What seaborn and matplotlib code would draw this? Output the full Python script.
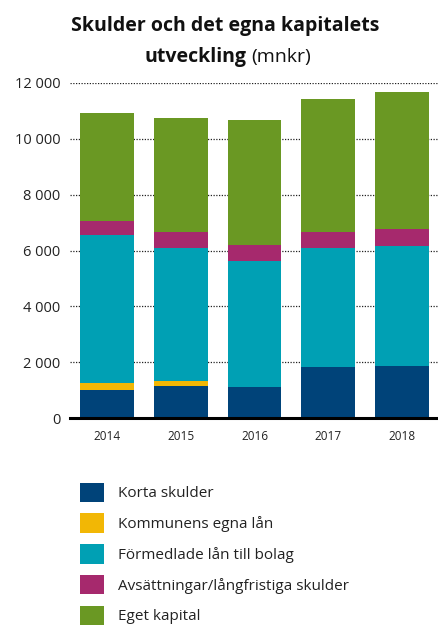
import pandas as pd
import matplotlib.pyplot as plt
import matplotlib.ticker as mticker
from matplotlib.patches import Patch
import seaborn as sns

# Data (mnkr)
years = ["2014", "2015", "2016", "2017", "2018"]
korta_skulder = [1000, 1140, 1100, 1820, 1850]
kommunens_lan = [240, 180, 0, 0, 0]
formedlade_lan = [5320, 4770, 4520, 4270, 4310]
avsattningar = [500, 570, 570, 570, 610]
eget_kapital = [3870, 4090, 4490, 4770, 4910]

series = ["Korta skulder", "Kommunens egna lån", "Förmedlade lån till bolag",
          "Avsättningar/långfristiga skulder", "Eget kapital"]
colors = ["#004379", "#F2B705", "#00A0B4", "#A6296D", "#6A9823"]

df = pd.DataFrame({
    "År": years,
    series[0]: korta_skulder,
    series[1]: kommunens_lan,
    series[2]: formedlade_lan,
    series[3]: avsattningar,
    series[4]: eget_kapital,
})
cum = df.set_index("År")[series].cumsum(axis=1).reset_index()

sns.set_theme(style="white")
plt.rcParams["font.family"] = ["Open Sans", "DejaVu Sans"]

fig = plt.figure(figsize=(4.39, 6.27), dpi=100)
ax = fig.add_axes([70 / 439, 1 - 418 / 627, 1 - 70 / 439, 335 / 627])

# stacked bars: draw cumulative totals from top layer down
for name, col in reversed(list(zip(series, colors))):
    sns.barplot(data=cum, x="År", y=name, color=col, width=0.73,
                saturation=1, ax=ax, zorder=3, linewidth=0)

ax.set_xlim(-0.5, 4.5)
ax.set_ylim(0, 12000)
ax.set_yticks(range(0, 12001, 2000))
ax.yaxis.set_major_formatter(mticker.FuncFormatter(
    lambda v, p: f"{int(v):,}".replace(",", " ")))
ax.grid(axis="y", linestyle=(0, (1, 1.2)), color="#222222", linewidth=0.9, zorder=0)
ax.set_axisbelow(True)
for s in ["top", "right", "left"]:
    ax.spines[s].set_visible(False)
ax.spines["bottom"].set_color("black")
ax.spines["bottom"].set_linewidth(2.2)
ax.spines["bottom"].set_zorder(5)
ax.tick_params(axis="y", length=0, pad=7, labelsize=10.5, labelcolor="#222222")
ax.tick_params(axis="x", length=0, pad=9, labelsize=8.5, labelcolor="#222222")
ax.set_xlabel("")
ax.set_ylabel("")

# title
fig.text(0.514, 1 - 31 / 627, "Skulder och det egna kapitalets", ha="center",
         va="baseline", fontsize=14, fontweight="bold", color="#111111")
fig.text(247 / 439, 1 - 62 / 627, "utveckling", ha="right", va="baseline",
         fontsize=14, fontweight="bold", color="#111111")
fig.text(251 / 439, 1 - 62 / 627, "(mnkr)", ha="left", va="baseline",
         fontsize=14, color="#111111")

# legend
handles = [Patch(facecolor=c, edgecolor="none", label=n) for n, c in zip(series, colors)]
fig.legend(handles=handles, loc="upper left", bbox_to_anchor=(66 / 439, 1 - 469 / 627),
           frameon=False, fontsize=11, handlelength=1.575, handleheight=1.575,
           labelspacing=0.74, handletextpad=0.9, labelcolor="#222222")

plt.savefig("out.png", dpi=100)
